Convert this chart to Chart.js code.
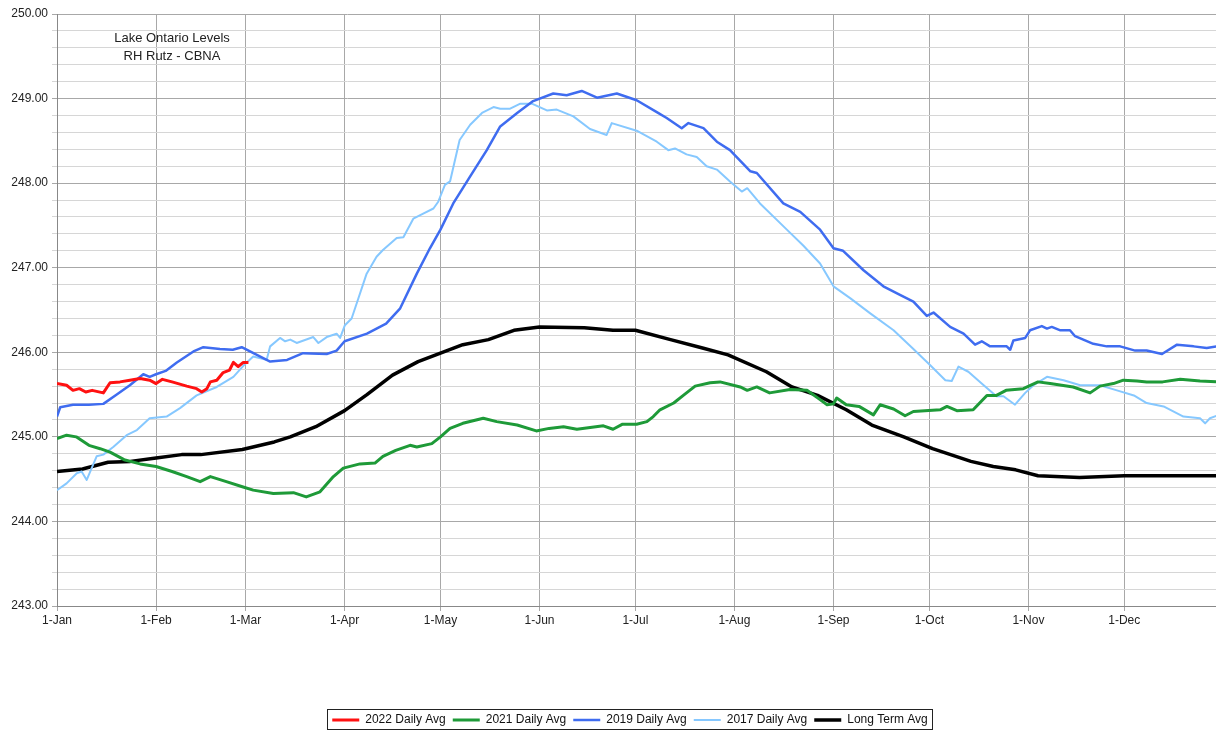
<!DOCTYPE html>
<html lang="en">
<head>
<meta charset="UTF-8">
<title>Lake Ontario Levels</title>
<script src="https://cdn.jsdelivr.net/npm/chart.js"></script>
<style>
  body { margin: 0; background: #fff; }
  #wrap { width: 1216px; height: 730px; }
</style>
</head>
<body>
<div id="wrap"><canvas id="levels" width="1216" height="730"></canvas></div>
<script>
// day of year (0 = 1-Jan) and level
const monthDays = [0, 31, 59, 90, 120, 151, 181, 212, 243, 273, 304, 334];
const monthLabels = ['1-Jan', '1-Feb', '1-Mar', '1-Apr', '1-May', '1-Jun', '1-Jul', '1-Aug', '1-Sep', '1-Oct', '1-Nov', '1-Dec'];

const days2022 = [0, 3, 5, 7, 9, 11, 14.5, 16.6, 19.7, 22.8, 26, 29, 31, 33, 36, 40.6, 43.7, 45.3, 46.9, 48, 50, 52, 54, 55.2, 56.7, 58.3, 59.9];
const lvl2022 = [245.63, 245.61, 245.55, 245.57, 245.53, 245.55, 245.52, 245.64, 245.65, 245.67, 245.69, 245.67, 245.63, 245.68, 245.65, 245.60, 245.57, 245.53, 245.57, 245.65, 245.67, 245.76, 245.79, 245.88, 245.83, 245.88, 245.88];

const days2021 = [0, 3, 6, 10, 13.5, 16.6, 21, 26, 31, 36, 40.6, 44.8, 48, 53, 58, 61.4, 67.7, 74, 78, 82.3, 86.5, 89.6, 94.8, 99.5, 102, 106, 110.5, 112.6, 117.3, 120, 123, 127, 133.4, 137.6, 144, 150, 154, 158.5, 162.7, 171, 174, 177, 181.4, 184.6, 186.6, 188.7, 193, 196, 199.7, 204.4, 207.5, 213.8, 216, 219, 223, 229.4, 234.7, 238.8, 241, 243, 244, 247, 251, 255.5, 257.6, 261.8, 265.4, 268, 276.4, 278.5, 281.6, 286.7, 291, 294, 297, 302.4, 307, 310.8, 318, 323.3, 326.4, 330.6, 333.7, 338, 341, 346, 351.5, 357.7, 363];
const lvl2021 = [244.98, 245.02, 245.00, 244.90, 244.86, 244.82, 244.73, 244.68, 244.65, 244.59, 244.53, 244.47, 244.53, 244.47, 244.41, 244.37, 244.33, 244.34, 244.29, 244.35, 244.53, 244.63, 244.68, 244.69, 244.77, 244.84, 244.90, 244.88, 244.92, 245.00, 245.10, 245.16, 245.22, 245.18, 245.14, 245.07, 245.10, 245.12, 245.09, 245.13, 245.09, 245.15, 245.15, 245.18, 245.24, 245.32, 245.40, 245.49, 245.60, 245.64, 245.65, 245.59, 245.55, 245.59, 245.52, 245.56, 245.55, 245.44, 245.38, 245.39, 245.46, 245.38, 245.36, 245.26, 245.38, 245.33, 245.25, 245.30, 245.32, 245.36, 245.31, 245.32, 245.49, 245.49, 245.55, 245.57, 245.65, 245.63, 245.59, 245.52, 245.60, 245.63, 245.67, 245.66, 245.65, 245.65, 245.68, 245.66, 245.65];

const days2019 = [0, 1, 5, 10, 14.5, 18.7, 22.8, 27, 29, 31, 34, 37.5, 42.7, 45.8, 51, 55, 57.8, 60.4, 66.7, 72, 77, 84.4, 87.5, 90, 97, 103, 107.4, 112.6, 116.7, 120, 124, 129.3, 134.5, 138.7, 144, 149, 155.3, 159.5, 164.2, 169, 175.2, 181.4, 187.7, 190.8, 195.5, 197.6, 202.3, 206.5, 210.6, 217, 219, 227.3, 232.6, 238.8, 243, 246, 252.4, 258.6, 263.8, 268, 272.2, 274.3, 279.5, 283.7, 287.3, 289.4, 292, 297.2, 298.3, 299.3, 303, 304.5, 308.2, 309.8, 311.3, 314, 317, 318.6, 324.3, 328.5, 332.7, 337.4, 341, 345.8, 350.5, 355.7, 359.8, 363];
const lvl2019 = [245.24, 245.35, 245.38, 245.38, 245.39, 245.50, 245.61, 245.74, 245.71, 245.74, 245.78, 245.88, 246.01, 246.06, 246.04, 246.03, 246.06, 246.01, 245.89, 245.91, 245.99, 245.98, 246.02, 246.13, 246.22, 246.34, 246.52, 246.93, 247.23, 247.45, 247.76, 248.08, 248.39, 248.67, 248.83, 248.97, 249.06, 249.04, 249.09, 249.01, 249.06, 248.98, 248.84, 248.77, 248.65, 248.71, 248.65, 248.49, 248.39, 248.14, 248.12, 247.76, 247.66, 247.45, 247.23, 247.20, 246.97, 246.78, 246.68, 246.60, 246.43, 246.47, 246.30, 246.22, 246.09, 246.13, 246.07, 246.07, 246.03, 246.14, 246.17, 246.26, 246.31, 246.28, 246.30, 246.26, 246.26, 246.19, 246.10, 246.07, 246.07, 246.02, 246.02, 245.98, 246.09, 246.07, 246.05, 246.07];

const days2017 = [0, 3, 6.2, 7.7, 9.3, 12.4, 14.5, 17.6, 21.8, 25, 29, 34.3, 38.5, 43.7, 50, 55.2, 58.3, 61.4, 65.6, 66.7, 69.8, 71.4, 73, 75, 80.2, 81.8, 84.4, 87.5, 88.6, 90.1, 92.2, 93.8, 96.9, 100, 102, 106.3, 108.4, 111.5, 114.6, 117.8, 119.3, 121.4, 123, 126, 129.3, 133, 136.6, 138.7, 141.8, 145, 148.6, 153.3, 156.4, 161.6, 166.8, 172, 173.6, 181.4, 187.7, 191.3, 193.4, 197, 200.2, 203.3, 206.5, 210.6, 214.3, 216, 220, 228.4, 233.6, 238.8, 243, 248.2, 254.5, 261.8, 268, 273.2, 278, 280, 282.1, 285.2, 290, 294, 296.2, 299.8, 303, 305.6, 309.8, 315, 320.2, 326.4, 331.7, 337, 341, 346.3, 352.5, 357.7, 359.3, 360.8, 363];
const lvl2017 = [244.37, 244.45, 244.57, 244.59, 244.49, 244.77, 244.79, 244.88, 245.02, 245.08, 245.22, 245.24, 245.34, 245.49, 245.59, 245.71, 245.84, 245.95, 245.91, 246.07, 246.17, 246.13, 246.15, 246.11, 246.18, 246.11, 246.18, 246.22, 246.17, 246.32, 246.40, 246.58, 246.93, 247.13, 247.21, 247.35, 247.36, 247.58, 247.64, 247.70, 247.78, 247.98, 248.02, 248.51, 248.69, 248.83, 248.90, 248.88, 248.88, 248.94, 248.94, 248.86, 248.87, 248.79, 248.64, 248.57, 248.71, 248.62, 248.49, 248.39, 248.41, 248.34, 248.31, 248.20, 248.16, 248.02, 247.90, 247.94, 247.76, 247.45, 247.26, 247.05, 246.78, 246.64, 246.46, 246.26, 246.04, 245.85, 245.67, 245.66, 245.83, 245.77, 245.61, 245.48, 245.48, 245.38, 245.52, 245.61, 245.71, 245.67, 245.61, 245.61, 245.55, 245.49, 245.40, 245.36, 245.24, 245.22, 245.16, 245.22, 245.25];

const daysLong = [0, 8, 16, 23, 31, 39, 45, 58, 68, 73, 81, 90, 97, 105, 113, 120, 127, 135, 143, 151, 165, 174, 181, 192, 202, 210, 222, 230, 238, 247, 255, 265, 274, 286, 293, 300, 307, 320, 334, 346, 363];
const lvlLong = [244.59, 244.62, 244.70, 244.71, 244.75, 244.79, 244.79, 244.85, 244.94, 245.00, 245.12, 245.31, 245.50, 245.73, 245.89, 245.99, 246.09, 246.15, 246.26, 246.30, 246.29, 246.26, 246.26, 246.15, 246.05, 245.97, 245.77, 245.59, 245.49, 245.32, 245.14, 245.00, 244.86, 244.71, 244.65, 244.61, 244.54, 244.52, 244.54, 244.54, 244.54];

function pts(days, vals) {
    return days.map((d, i) => ({ x: d, y: vals[i] }));
}

function line(label, days, vals, color, width) {
    return {
        label: label,
        data: pts(days, vals),
        borderColor: color,
        backgroundColor: color,
        borderWidth: width,
        pointRadius: 0,
        tension: 0,
        borderJoinStyle: 'round'
    };
}

const LEGEND_H = 23;

// squeeze the legend down so it sits against the bottom edge, and shift it right a bit
const legendTweaks = {
    id: 'legendTweaks',
    beforeInit(chart) {
        const lg = chart.legend;
        const fit = lg.fit;
        lg.fit = function () {
            fit.call(this);
            this.height = LEGEND_H;
        };
    },
    afterLayout(chart) {
        chart.legend.left += 22;
        chart.legend.right += 22;
    },
    afterDraw(chart) {
        const ctx = chart.ctx;
        const boxes = chart.legend.legendHitBoxes;
        if (boxes && boxes.length) {
            const x0 = Math.min(...boxes.map(b => b.left)) - 5;
            const x1 = Math.max(...boxes.map(b => b.left + b.width)) + 5;
            ctx.save();
            ctx.strokeStyle = '#222';
            ctx.lineWidth = 1;
            ctx.strokeRect(Math.round(x0) + 0.5, 709.5, Math.round(x1 - x0), 20);
            ctx.restore();
        }
        // note text in the upper left of the plot
        ctx.save();
        ctx.fillStyle = '#222';
        ctx.font = '13px "Liberation Sans", Arial, sans-serif';
        ctx.textAlign = 'center';
        ctx.textBaseline = 'middle';
        ctx.fillText('Lake Ontario Levels', 172, 38);
        ctx.fillText('RH Rutz - CBNA', 172, 56);
        ctx.restore();
    }
};

const ctx = document.getElementById('levels').getContext('2d');
const chart = new Chart(ctx, {
    type: 'line',
    data: {
        datasets: [
            line('2022 Daily Avg', days2022, lvl2022, '#ff1111', 3),
            line('2021 Daily Avg', days2021, lvl2021, '#1e9a38', 3),
            line('2019 Daily Avg', days2019, lvl2019, '#3f6cf0', 2.5),
            line('2017 Daily Avg', days2017, lvl2017, '#86c8ff', 2),
            line('Long Term Avg', daysLong, lvlLong, '#000000', 3.5)
        ]
    },
    options: {
        responsive: false,
        animation: false,
        layout: { padding: { top: 14, left: 0, right: 0, bottom: 0 } },
        plugins: {
            legend: {
                position: 'bottom',
                labels: {
                    usePointStyle: true,
                    pointStyle: 'line',
                    pointStyleWidth: 27,
                    padding: 7,
                    color: '#111',
                    font: { family: '"Liberation Sans", Arial, sans-serif', size: 12 }
                }
            },
            tooltip: { enabled: false }
        },
        scales: {
            x: {
                type: 'linear',
                min: 0,
                max: 362.7,
                afterBuildTicks: s => { s.ticks = monthDays.map(v => ({ value: v })); },
                afterFit: s => { s.height = 730 - LEGEND_H - 606; },
                ticks: {
                    autoSkip: false,
                    maxRotation: 0,
                    color: '#222',
                    padding: 2,
                    font: { family: '"Liberation Sans", Arial, sans-serif', size: 12 },
                    callback: (v, i) => monthLabels[i]
                },
                grid: { color: '#a8a8a8', tickLength: 5 },
                border: { color: '#888' }
            },
            y: {
                min: 243,
                max: 250,
                afterFit: s => { s.width = 57; },
                ticks: {
                    stepSize: 0.2,
                    autoSkip: false,
                    color: '#222',
                    padding: 4,
                    font: { family: '"Liberation Sans", Arial, sans-serif', size: 12 },
                    callback: v => Math.abs(v - Math.round(v)) < 1e-6 ? v.toFixed(2) : ''
                },
                grid: {
                    tickLength: 5,
                    color: c => Math.abs(c.tick.value - Math.round(c.tick.value)) < 1e-6 ? '#a8a8a8' : '#d6d6d6'
                },
                border: { color: '#888' }
            }
        }
    },
    plugins: [legendTweaks]
});
</script>
</body>
</html>
